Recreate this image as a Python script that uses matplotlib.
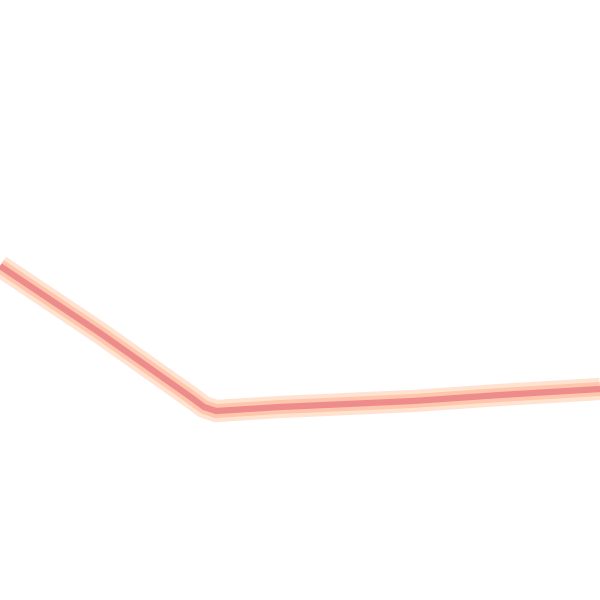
import matplotlib
matplotlib.use('Agg')
import matplotlib.pyplot as plt

# Data (arbitrary units)
x = [0, 100, 192, 204, 216, 280, 347, 413, 500, 600]
y = [334, 267, 202, 193, 189, 193, 196, 199, 205, 211]

fig = plt.figure(figsize=(6, 6), dpi=100)
ax = fig.add_axes([0, 0, 1, 1])

# soft glow round the line
ax.plot(x, y, color='#ffe2d0', linewidth=16, solid_capstyle='butt', solid_joinstyle='round')
ax.plot(x, y, color='#fdc6ad', linewidth=10, solid_capstyle='butt', solid_joinstyle='round')
ax.plot(x, y, color='#ee8c8c', linewidth=4.5, solid_capstyle='butt', solid_joinstyle='round')

ax.set_xlim(0, 600)
ax.set_ylim(0, 600)
ax.axis('off')

fig.savefig('out.png', dpi=100)
